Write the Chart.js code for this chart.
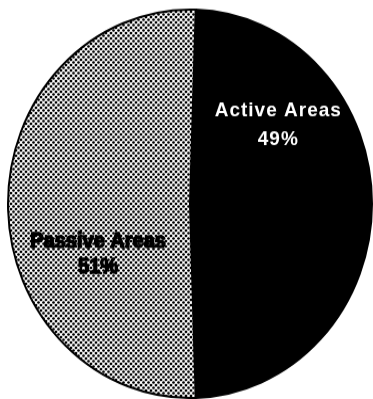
<!DOCTYPE html>
<html>
<head>
<meta charset="utf-8">
<script src="https://cdn.jsdelivr.net/npm/chart.js@4/dist/chart.umd.min.js"></script>
<style>
  html, body { margin: 0; padding: 0; background: #fff; overflow: hidden; }
  #graph { display: block; }
</style>
</head>
<body>
<canvas id="graph" width="373" height="374" style="width:373px;height:399px"></canvas>
<script>
// slice data
const categories = ['Active Areas', 'Passive Areas'];
const shares = [49, 51];
const textColors = ['#ffffff', '#000000'];

// halftone dots for the passive slice
function dotPattern() {
    let n = 5;
    let tile = document.createElement('canvas');
    tile.width = n;
    tile.height = n;
    let c = tile.getContext('2d');
    c.fillStyle = '#ffffff';
    c.fillRect(0, 0, n, n);
    c.fillStyle = '#000000';
    let dots = [[1, 1], [3.5, 3.5], [-1.5, 3.5], [3.5, -1.5], [-1.5, -1.5], [6, 1], [1, 6], [6, 6]];
    dots.forEach(d => {
        c.beginPath();
        c.arc(d[0], d[1], 1.35, 0, Math.PI * 2);
        c.fill();
    });
    return c.createPattern(tile, 'repeat');
}

// label offsets from the pie centre, as a fraction of the radius
const labelSpots = [
    { dx: 0.485, dy: [-0.45, -0.30], size: 19, spacing: '1px', stroke: false },
    { dx: -0.505, dy: [0.228, 0.357], size: 20, spacing: '0px', stroke: true }
];

const sliceLabels = {
    id: 'sliceLabels',
    afterDatasetsDraw(chart) {
        let ctx = chart.ctx;
        let arcs = chart.getDatasetMeta(0).data;
        arcs.forEach((arc, i) => {
            let spot = labelSpots[i];
            let r = arc.outerRadius;
            let lines = [categories[i], shares[i] + '%'];
            ctx.save();
            ctx.font = 'bold ' + spot.size + 'px "Liberation Sans", Arial, sans-serif';
            ctx.letterSpacing = spot.spacing;
            ctx.textAlign = 'center';
            ctx.textBaseline = 'alphabetic';
            ctx.fillStyle = textColors[i];
            ctx.strokeStyle = textColors[i];
            ctx.lineWidth = 1.4;
            ctx.lineJoin = 'round';
            lines.forEach((txt, k) => {
                let x = arc.x + spot.dx * r;
                let y = arc.y + spot.dy[k] * r;
                ctx.fillText(txt, x, y);
                if (spot.stroke) { ctx.strokeText(txt, x, y); }
            });
            ctx.restore();
        });
    }
};

new Chart(document.getElementById('graph'), {
    type: 'pie',
    data: {
        labels: categories,
        datasets: [{
            data: shares,
            backgroundColor: ['#000000', dotPattern()],
            borderColor: '#000000',
            borderWidth: 2
        }]
    },
    options: {
        responsive: false,
        animation: false,
        rotation: 1.8,
        layout: { padding: { left: 7, right: 0, top: 8, bottom: 0 } },
        plugins: {
            legend: { display: false },
            tooltip: { enabled: false }
        }
    },
    plugins: [sliceLabels]
});
</script>
</body>
</html>
